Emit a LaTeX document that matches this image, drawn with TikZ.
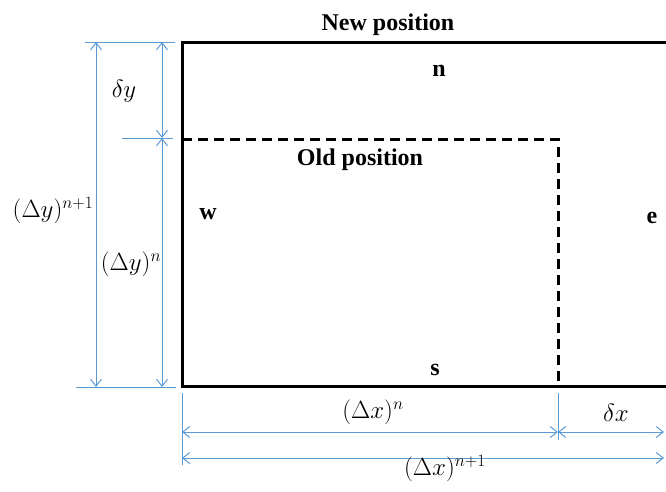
\documentclass[tikz,border=0pt]{standalone}
\usepackage{fontspec}
\setmainfont{Liberation Serif}
\usetikzlibrary{arrows.meta}
\definecolor{dimblue}{HTML}{5B9BD5}
\tikzset{
  dimline/.style={draw=dimblue, line width=1pt},
  dimarrow/.style={dimline, {Straight Barb[length=7pt,width=11pt]}-{Straight Barb[length=7pt,width=11pt]}},
  lbl/.style={font=\fontsize{24}{28}\selectfont\bfseries, anchor=base, inner sep=0pt},
  mlbl/.style={font=\fontsize{23.5}{27}\selectfont, inner sep=0pt},
  boxline/.style={draw=black, line width=3pt},
  oldline/.style={draw=black, line width=3pt, dash pattern=on 10pt off 6pt}
}
\begin{document}
\begin{tikzpicture}[x=1pt,y=-1pt]
\useasboundingbox (0,0) rectangle (666,491);
\clip (0,0) rectangle (666,491);
% coordinates
\coordinate (NW) at (182,42);
\coordinate (SW) at (182,386);
\coordinate (NE) at (700,42);
\coordinate (SE) at (700,386);
\coordinate (OW) at (182,139);
\coordinate (OC) at (558,139);
\coordinate (OS) at (558,386);
% new position box
\draw[boxline] (NE) -- (NW) -- (SW) -- (SE);
% old position
\draw[oldline] (OW) -- (OC) -- (OS);
% vertical extension lines
\coordinate (et1) at (85,42);   \coordinate (et2) at (175,42);
\coordinate (em1) at (122,138); \coordinate (em2) at (173,138);
\coordinate (eb1) at (76,387);  \coordinate (eb2) at (176,387);
\draw[dimline] (et1) -- (et2);
\draw[dimline] (em1) -- (em2);
\draw[dimline] (eb1) -- (eb2);
% vertical dimension arrows
\coordinate (vo1) at (96,42);  \coordinate (vo2) at (96,387);
\coordinate (vi1) at (162,42); \coordinate (vi2) at (162,138);
\coordinate (vi3) at (162,387);
\draw[dimarrow] (vo1) -- (vo2);
\draw[dimarrow] (vi1) -- (vi2);
\draw[dimarrow] (vi2) -- (vi3);
% horizontal extension lines
\coordinate (hx1) at (182,393); \coordinate (hx2) at (182,465);
\coordinate (hy1) at (558,393); \coordinate (hy2) at (558,440);
\draw[dimline] (hx1) -- (hx2);
\draw[dimline] (hy1) -- (hy2);
% horizontal dimension arrows
\coordinate (ha1) at (182,432); \coordinate (ha2) at (558,432);
\coordinate (ha3) at (664,432);
\coordinate (hb1) at (182,458); \coordinate (hb2) at (664,458);
\draw[dimarrow] (ha1) -- (ha2);
\draw[dimarrow] (ha2) -- (ha3);
\draw[dimarrow] (hb1) -- (hb2);
% text labels
\node[lbl] (newpos) at (388,30) {New position};
\node[lbl] (n) at (439,76) {n};
\node[lbl] (oldpos) at (360,165) {Old position};
\node[lbl] (w) at (208,219) {w};
\node[lbl] (e) at (652,223) {e};
\node[lbl] (s) at (435,375) {s};
% math labels
\node[mlbl] (dy) at (124,91) {$\delta y$};
\node[mlbl] (Dy1) at (53,211) {$(\Delta y)^{n+1}$};
\node[mlbl] (Dyn) at (131,264) {$(\Delta y)^{n}$};
\node[mlbl] (Dxn) at (373,412) {$(\Delta x)^{n}$};
\node[mlbl] (dx) at (616,413) {$\delta x$};
\node[mlbl] (Dx1) at (445,469) {$(\Delta x)^{n+1}$};
\end{tikzpicture}
\end{document}
